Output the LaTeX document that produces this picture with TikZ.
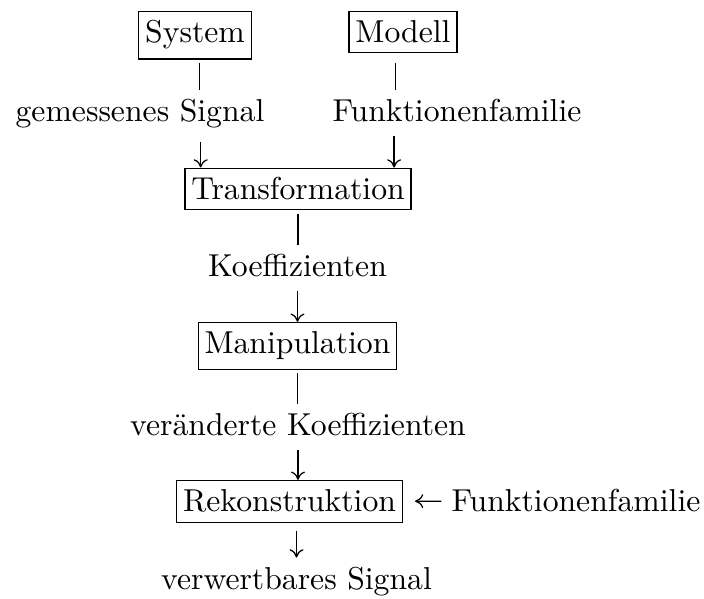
\documentclass[tikz,border=0pt]{standalone}
\usepackage{tikz}
\usetikzlibrary{arrows.meta}
\tikzstyle{block} = [draw, rectangle, inner xsep=2pt, inner ysep=3pt, anchor=base]
\tikzstyle{txt} = [inner sep=3pt, anchor=base]
\tikzstyle{stem} = [shorten <=1pt]
\tikzstyle{arrow} = [-{To[length=2.6pt,width=4.4pt]}, shorten <=1pt]

\begin{document}
\begin{tikzpicture}[x=0.3155pt, y=-0.3155pt]
                \useasboundingbox (0,0) rectangle (704,599);

                % Sources
                \node[block] (sys) at (195,43) {System};
                \node[block] (mod) at (403,43) {Modell};
                \node[txt] (sig) at (140,122) {gemessenes Signal};
                \node[txt] (fam) at (457,122) {Funktionenfamilie};

                % Processing chain
                \node[block] (trf) at (298,200) {Transformation};
                \node[txt] (koe) at (297.5,277) {Koeffizienten};
                \node[block] (man) at (297.5,354) {Manipulation};
                \node[txt] (vko) at (298,436) {veränderte Koeffizienten};
                \node[block] (rek) at (289.5,512) {Rekonstruktion};
                \node[txt] (fam2) at (576,512) {Funktionenfamilie};
                \node[txt] (out) at (296.5,590) {verwertbares Signal};

                % Connections
                \draw [stem] ([xshift=1.5pt]sys.south) -- ([xshift=1.5pt]sys.south |- sig.north);
                \draw [arrow] ([xshift=1.8pt]sys.south |- sig.south) -- ([xshift=1.8pt]sys.south |- trf.north);
                \draw [stem] ([xshift=-2.4pt]mod.south |- sys.south) -- ([xshift=-2.4pt]mod.south |- fam.north);
                \draw [arrow] ([xshift=-2.8pt]mod.south |- fam.south) -- ([xshift=-2.8pt]mod.south |- trf.north);
                \draw [stem] (trf.south) -- (trf.south |- koe.north);
                \draw [arrow] (koe.south) -- (koe.south |- man.north);
                \draw [stem] (man.south) -- (man.south |- vko.north);
                \draw [arrow] (vko.south) -- (vko.south |- rek.north);
                \draw [arrow, shorten <=2.5pt] (out.north |- rek.south) -- (out.north);
                \draw [arrow, shorten <=0pt, shorten >=3.8pt] (fam2) -- (rek);
            \end{tikzpicture}
\end{document}
